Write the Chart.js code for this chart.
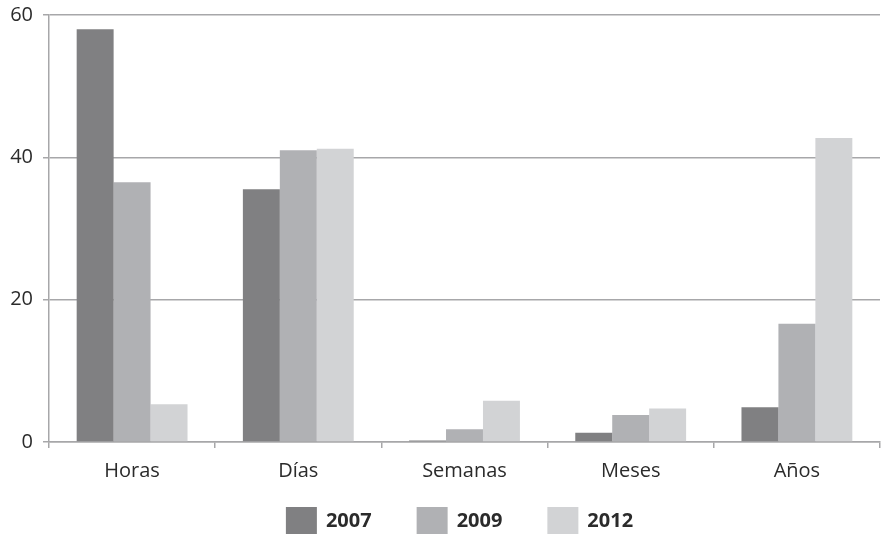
<!DOCTYPE html>
<html>
<head>
<meta charset="utf-8">
<script src="https://cdn.jsdelivr.net/npm/chart.js@4/dist/chart.umd.min.js"></script>
<style>
  html, body { margin: 0; padding: 0; background: #fff; }
  #wrap { width: 889px; height: 534px; }
</style>
</head>
<body>
<div id="wrap"><canvas id="plazoChart"></canvas></div>
<script>
const categorias = ['Horas', 'Días', 'Semanas', 'Meses', 'Años'];
const anios = ['2007', '2009', '2012'];
const valores2007 = [58.0, 35.5, 0.2, 1.3, 4.9];
const valores2009 = [36.5, 41.0, 1.8, 3.8, 16.6];
const valores2012 = [5.3, 41.2, 5.8, 4.7, 42.7];
const ticksY = [0, 20, 40, 60];

const colores = ['#808082', '#b0b1b4', '#d2d3d5'];
const gris = '#a7a7a9';
const texto = '#2b2b2b';

// leyenda dibujada a mano: cuadros anchos y bastante separacion entre items
const leyendaAbajo = {
    id: 'leyendaAbajo',
    afterDraw(chart) {
        const ctx = chart.ctx;
        const caja = { w: 31, h: 27 };
        const sep = 9, hueco = 45;
        ctx.save();
        ctx.font = 'bold 20px "Open Sans"';
        const items = chart.data.datasets.map(ds => ({
            texto: ds.label,
            color: ds.backgroundColor,
            ancho: caja.w + sep + ctx.measureText(ds.label).width
        }));
        const total = items.reduce((a, it) => a + it.ancho, 0) + hueco * (items.length - 1);
        let x = (chart.chartArea.left + chart.chartArea.right) / 2 - total / 2 - 5;
        const y = chart.height - caja.h;
        ctx.textBaseline = 'middle';
        items.forEach(it => {
            ctx.fillStyle = it.color;
            ctx.fillRect(x, y, caja.w, caja.h);
            ctx.fillStyle = texto;
            ctx.fillText(it.texto, x + caja.w + sep, y + caja.h / 2 + 1);
            x += it.ancho + hueco;
        });
        ctx.restore();
    }
};

const plazoData = {
    labels: categorias,
    datasets: [valores2007, valores2009, valores2012].map((serie, i) => ({
        label: anios[i],
        data: serie,
        backgroundColor: colores[i],
        borderWidth: 0,
        categoryPercentage: 0.667,
        barPercentage: 1
    }))
};

const plazoConfig = {
    type: 'bar',
    data: plazoData,
    options: {
        responsive: true,
        maintainAspectRatio: false,
        animation: false,
        layout: {
            padding: { left: 0, right: 9, top: 15, bottom: 0 }
        },
        plugins: {
            tooltip: { enabled: false },
            legend: { display: false }
        },
        scales: {
            x: {
                offset: true,
                grid: {
                    offset: true,
                    drawOnChartArea: false,
                    drawTicks: true,
                    tickLength: 6,
                    color: gris,
                    lineWidth: 1.5
                },
                border: { color: gris, width: 1.5 },
                ticks: {
                    padding: 11,
                    color: texto,
                    font: { family: 'Open Sans', size: 20 }
                },
                afterFit: (scale) => { scale.height = 92; }
            },
            y: {
                min: 0,
                max: 60,
                afterBuildTicks: (scale) => {
                    scale.ticks = ticksY.map(v => ({ value: v }));
                },
                grid: {
                    color: gris,
                    lineWidth: 1.5,
                    tickLength: 6
                },
                border: { color: gris, width: 1.5 },
                ticks: {
                    padding: 10,
                    color: texto,
                    font: { family: 'Open Sans', size: 20 }
                },
                afterFit: (scale) => {
                    scale.width = 49;
                    scale.paddingTop = 0;
                    scale.paddingBottom = 0;
                }
            }
        }
    },
    plugins: [leyendaAbajo]
};

const plazoChart = new Chart(
    document.getElementById('plazoChart'),
    plazoConfig
);
</script>
</body>
</html>
